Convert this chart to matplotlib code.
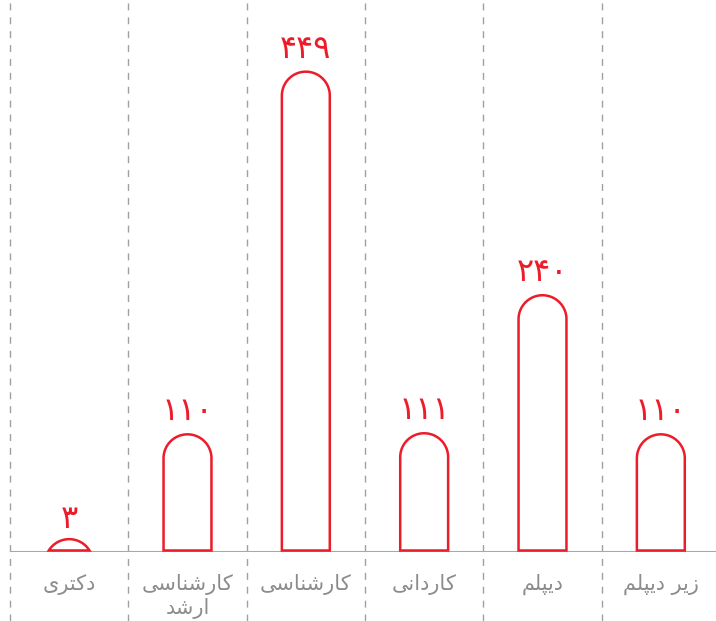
import numpy as np
import matplotlib.pyplot as plt
from matplotlib.path import Path
from matplotlib.patches import PathPatch

categories = ['دکتری', 'کارشناسی ارشد', 'کارشناسی', 'کاردانی', 'دیپلم', 'زیر دیپلم']
values = [3, 110, 449, 111, 240, 110]
value_labels = ['۳', '۱۱۰', '۴۴۹', '۱۱۱', '۲۴۰', '۱۱۰']
wrapped = ['دکتری', 'کارشناسی\nارشد', 'کارشناسی', 'کاردانی', 'دیپلم', 'زیر دیپلم']

RED = '#ec1c2a'
GRAY = '#8c8c8c'

# isolated, final, initial, medial (matplotlib does no arabic shaping itself)
FORMS = {
    'ا': ('\uFE8D', '\uFE8E', None, None),
    'د': ('\uFEA9', '\uFEAA', None, None),
    'ر': ('\uFEAD', '\uFEAE', None, None),
    'ز': ('\uFEAF', '\uFEB0', None, None),
    'ب': ('\uFE8F', '\uFE90', '\uFE91', '\uFE92'),
    'پ': ('\uFB56', '\uFB57', '\uFB58', '\uFB59'),
    'ت': ('\uFE95', '\uFE96', '\uFE97', '\uFE98'),
    'س': ('\uFEB1', '\uFEB2', '\uFEB3', '\uFEB4'),
    'ش': ('\uFEB5', '\uFEB6', '\uFEB7', '\uFEB8'),
    'ک': ('\uFB8E', '\uFB8F', '\uFB90', '\uFB91'),
    'ل': ('\uFEDD', '\uFEDE', '\uFEDF', '\uFEE0'),
    'م': ('\uFEE1', '\uFEE2', '\uFEE3', '\uFEE4'),
    'ن': ('\uFEE5', '\uFEE6', '\uFEE7', '\uFEE8'),
    'ی': ('\uFBFC', '\uFBFD', '\uFBFE', '\uFBFF'),
}


def shape_line(s):
    out = []
    for k, c in enumerate(s):
        if c not in FORMS:
            out.append(c)
            continue
        prev = s[k-1] if k > 0 else None
        nxt = s[k+1] if k + 1 < len(s) else None
        iso, fin, ini, med = FORMS[c]
        jp = prev in FORMS and FORMS[prev][2] is not None
        jn = nxt in FORMS and ini is not None
        if jp and jn:
            out.append(med)
        elif jp:
            out.append(fin)
        elif jn:
            out.append(ini)
        else:
            out.append(iso)
    return ''.join(reversed(out))


def rtl(s):
    return '\n'.join(shape_line(l) for l in s.split('\n'))


W, H, dpi = 716, 621, 100
fig = plt.figure(figsize=(W/dpi, H/dpi), dpi=dpi)
ax = fig.add_axes([10/W, 69/H, 710/W, 552/H])
ymax = 516
ax.set_xlim(-0.5, len(values) - 0.5)
ax.set_ylim(0, ymax)
ax.axis('off')

px_x = (len(values)) / 710.0   # data units per pixel
px_y = ymax / 552.0
bw = 0.405
r_px = bw / 2 / px_x
ry = r_px * px_y
lift = 1.5 * px_y  # bars sit just above the grey baseline
min_cap = 12.0  # smallest visible cap height


def capsule(xc, top):
    top = max(top, min_cap)
    cy = top - ry
    t = np.linspace(0, np.pi, 80)
    xs = xc + bw/2 * np.cos(t)
    ys = cy + ry * np.sin(t)
    if cy >= lift:
        verts = [(xc + bw/2, lift)] + list(zip(xs, ys)) + [(xc - bw/2, lift), (xc + bw/2, lift)]
    else:
        keep = ys >= lift
        xs, ys = xs[keep], ys[keep]
        verts = list(zip(xs, ys)) + [(xs[0], ys[0])]
    codes = [Path.MOVETO] + [Path.LINETO] * (len(verts) - 2) + [Path.CLOSEPOLY]
    return Path(verts, codes)


for i, v in enumerate(values):
    p = PathPatch(capsule(i, v), facecolor='white', edgecolor=RED, lw=1.8, zorder=5)
    ax.add_patch(p)
    ax.annotate(value_labels[i], xy=(i, max(v, min_cap - 3)), xytext=(0, 5), textcoords='offset points',
                ha='center', va='bottom', color=RED, fontsize=23, family='DejaVu Sans')
    ax.annotate(rtl(wrapped[i]), xy=(i, 0), xytext=(0, -16), textcoords='offset points',
                ha='center', va='top', color=GRAY, fontsize=15, family='DejaVu Sans',
                linespacing=1.2, annotation_clip=False)

for b in np.arange(-0.5, len(values) - 0.5, 1.0):
    ax.axvline(b, ymin=-69/552, ymax=1, color='#a0a0a0', lw=1, ls=(0, (5, 5)), clip_on=False, zorder=1)

ax.axhline(0, color='#a8a8a8', lw=1.5, zorder=4)

fig.savefig('out.png', dpi=dpi)
